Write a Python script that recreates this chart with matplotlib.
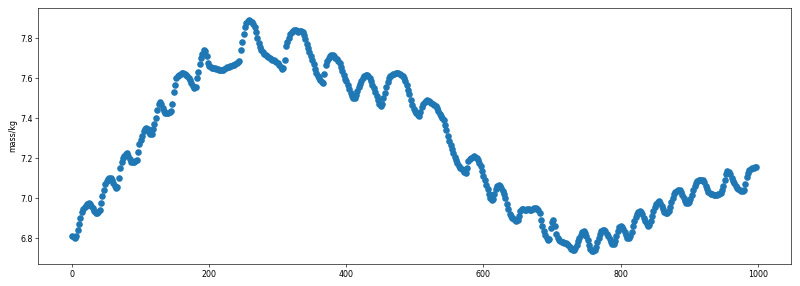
import numpy as np
import matplotlib
matplotlib.use("Agg")
import matplotlib.pyplot as plt

# readings taken every 2 samples along the x axis (0 .. 998)
step = 2
mass = [
    6.81, 6.805, 6.80, 6.81, 6.84, 6.87, 6.90, 6.93, 6.945, 6.955,
    6.96, 6.97, 6.975, 6.97, 6.96, 6.95, 6.935, 6.925, 6.925, 6.93,
    6.94, 6.975, 7.01, 7.04, 7.07, 7.085, 7.095, 7.10, 7.10, 7.09,
    7.075, 7.06, 7.05, 7.055, 7.10, 7.15, 7.18, 7.20, 7.21, 7.22,
    7.225, 7.21, 7.195, 7.18, 7.18, 7.18, 7.185, 7.19, 7.23, 7.27,
    7.29, 7.31, 7.335, 7.345, 7.35, 7.345, 7.33, 7.32, 7.32, 7.345,
    7.37, 7.40, 7.44, 7.47, 7.48, 7.47, 7.45, 7.435, 7.425, 7.425,
    7.425, 7.43, 7.435, 7.47, 7.53, 7.565, 7.60, 7.61, 7.615, 7.62,
    7.625, 7.625, 7.62, 7.615, 7.61, 7.60, 7.59, 7.575, 7.56, 7.55,
    7.555, 7.60, 7.63, 7.67, 7.70, 7.72, 7.74, 7.735, 7.71, 7.675,
    7.66, 7.655, 7.65, 7.65, 7.65, 7.645, 7.645, 7.64, 7.64, 7.64,
    7.64, 7.645, 7.65, 7.655, 7.655, 7.66, 7.66, 7.665, 7.665, 7.67,
    7.675, 7.68, 7.685, 7.74, 7.78, 7.82, 7.855, 7.875, 7.885, 7.89,
    7.885, 7.88, 7.87, 7.855, 7.83, 7.80, 7.775, 7.755, 7.74, 7.73,
    7.72, 7.715, 7.71, 7.705, 7.70, 7.695, 7.69, 7.69, 7.685, 7.68,
    7.675, 7.665, 7.655, 7.645, 7.65, 7.69, 7.76, 7.78, 7.80, 7.82,
    7.83, 7.835, 7.84, 7.84, 7.835, 7.83, 7.835, 7.835, 7.83, 7.815,
    7.795, 7.77, 7.75, 7.73, 7.71, 7.69, 7.67, 7.645, 7.625, 7.61,
    7.60, 7.59, 7.58, 7.575, 7.62, 7.665, 7.685, 7.70, 7.71, 7.715,
    7.715, 7.71, 7.70, 7.695, 7.685, 7.675, 7.655, 7.635, 7.615, 7.595,
    7.585, 7.565, 7.545, 7.525, 7.51, 7.50, 7.50, 7.515, 7.535, 7.555,
    7.57, 7.585, 7.60, 7.61, 7.615, 7.615, 7.61, 7.60, 7.585, 7.565,
    7.55, 7.53, 7.51, 7.49, 7.47, 7.46, 7.47, 7.50, 7.525, 7.555,
    7.58, 7.60, 7.61, 7.615, 7.62, 7.62, 7.625, 7.625, 7.625, 7.62,
    7.615, 7.61, 7.60, 7.585, 7.565, 7.54, 7.52, 7.49, 7.465, 7.445,
    7.435, 7.425, 7.415, 7.41, 7.43, 7.455, 7.47, 7.48, 7.485, 7.49,
    7.485, 7.48, 7.475, 7.47, 7.465, 7.46, 7.45, 7.435, 7.42, 7.41,
    7.40, 7.39, 7.365, 7.34, 7.31, 7.285, 7.265, 7.245, 7.225, 7.205,
    7.19, 7.175, 7.16, 7.15, 7.145, 7.14, 7.13, 7.125, 7.15, 7.185,
    7.195, 7.20, 7.205, 7.21, 7.205, 7.20, 7.19, 7.175, 7.16, 7.135,
    7.11, 7.09, 7.065, 7.045, 7.02, 7.00, 6.99, 6.995, 7.02, 7.045,
    7.06, 7.065, 7.06, 7.05, 7.035, 7.02, 7.00, 6.97, 6.945, 6.92,
    6.91, 6.90, 6.895, 6.89, 6.885, 6.89, 6.91, 6.935, 6.945, 6.945,
    6.94, 6.94, 6.945, 6.945, 6.94, 6.94, 6.945, 6.95, 6.95, 6.945,
    6.94, 6.925, 6.89, 6.86, 6.835, 6.815, 6.80, 6.79, 6.795, 6.85,
    6.88, 6.89, 6.86, 6.82, 6.80, 6.79, 6.785, 6.78, 6.78, 6.775,
    6.775, 6.77, 6.765, 6.755, 6.745, 6.74, 6.74, 6.75, 6.765, 6.785,
    6.80, 6.815, 6.83, 6.835, 6.825, 6.81, 6.79, 6.765, 6.745, 6.735,
    6.735, 6.74, 6.755, 6.78, 6.80, 6.82, 6.835, 6.84, 6.84, 6.835,
    6.82, 6.81, 6.795, 6.78, 6.77, 6.77, 6.785, 6.81, 6.835, 6.855,
    6.86, 6.855, 6.845, 6.83, 6.815, 6.80, 6.80, 6.81, 6.83, 6.86,
    6.885, 6.905, 6.92, 6.93, 6.935, 6.93, 6.92, 6.90, 6.885, 6.87,
    6.86, 6.865, 6.885, 6.91, 6.935, 6.955, 6.97, 6.98, 6.985, 6.975,
    6.96, 6.945, 6.93, 6.925, 6.925, 6.935, 6.955, 6.98, 7.00, 7.02,
    7.03, 7.035, 7.04, 7.04, 7.03, 7.015, 7.00, 6.985, 6.975, 6.975,
    6.98, 6.995, 7.015, 7.04, 7.06, 7.075, 7.085, 7.09, 7.09, 7.09,
    7.09, 7.08, 7.06, 7.045, 7.03, 7.025, 7.02, 7.02, 7.015, 7.015,
    7.015, 7.02, 7.02, 7.025, 7.04, 7.06, 7.09, 7.12, 7.135, 7.13,
    7.12, 7.10, 7.085, 7.075, 7.06, 7.05, 7.045, 7.04, 7.035, 7.035,
    7.04, 7.07, 7.105, 7.125, 7.14, 7.145, 7.15, 7.15, 7.155, 7.155,
]
sample = np.arange(len(mass)) * step

# original looks like a 14x5 figure shrunk to 800px wide
k = 800 / 1400
plt.rcParams['font.size'] = 10 * k
plt.rcParams['axes.linewidth'] = 0.8 * k
for ax_name in ['xtick', 'ytick']:
    plt.rcParams[ax_name + '.major.size'] = 3.5 * k
    plt.rcParams[ax_name + '.major.width'] = 0.8 * k
    plt.rcParams[ax_name + '.major.pad'] = 3.5 * k
plt.rcParams['axes.labelpad'] = 4 * k

fig = plt.figure(figsize=(8, 2.86), dpi=100)
ax = fig.add_axes([0.0475, 0.077, 0.9415, 0.895])
ax.scatter(sample, mass, s=14, color='#1f77b4')
ax.set_ylabel('mass/kg')
ax.set_xlim(-49.95, 1048.95)
ax.set_ylim(6.672, 7.95)

fig.savefig('out.png', dpi=100)
